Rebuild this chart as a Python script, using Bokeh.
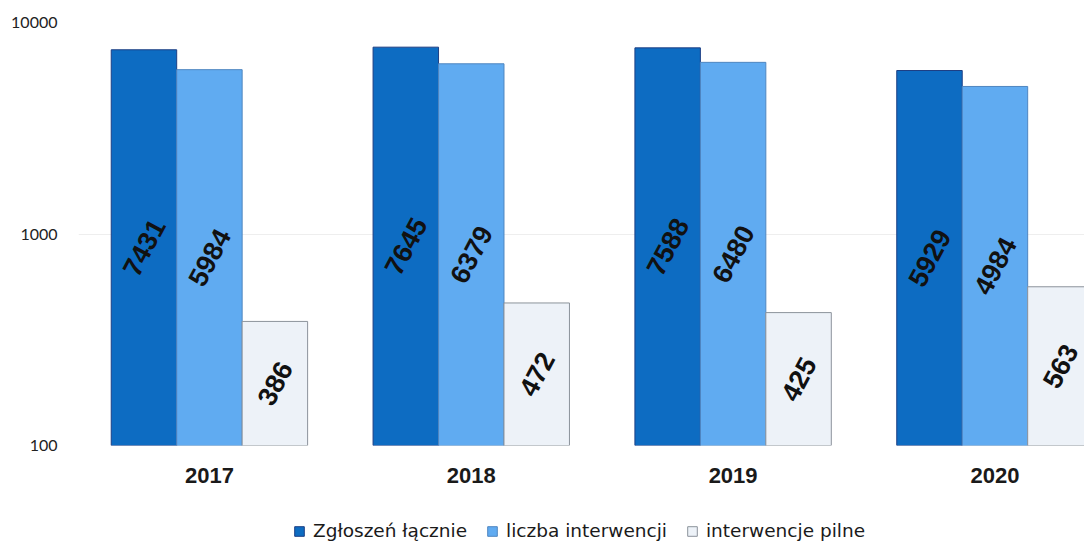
import math
from bokeh.plotting import figure
from bokeh.layouts import column
from bokeh.models import Range1d, FixedTicker, NumeralTickFormatter, Legend, LegendItem, ColumnDataSource
from bokeh.core.properties import value
from bokeh.embed import file_html
from bokeh.resources import INLINE

years = ["2017", "2018", "2019", "2020"]
zgloszenia = [7431, 7645, 7588, 5929]
interwencje = [5984, 6379, 6480, 4984]
pilne = [386, 472, 425, 563]
series_names = ["Zgłoszeń łącznie", "liczba interwencji", "interwencje pilne"]
y_ticks = [100, 1000, 10000]

fill_colors = ["#0d6cc2", "#60abf1", "#edf2f8"]
line_colors = ["#1d3f84", "#4f86c0", "#8c939b"]
offsets = [-0.25, 0.0, 0.25]
series = [zgloszenia, interwencje, pilne]
base = y_ticks[0]

p = figure(width=1084, height=505, y_axis_type="log",
           x_range=Range1d(-0.5, 3.342), y_range=Range1d(100, 10000),
           output_backend="svg", toolbar_location=None,
           min_border_left=78, min_border_right=0, min_border_top=22, min_border_bottom=60)
p.outline_line_color = None
p.background_fill_color = "white"

sources = []
for k, vals in enumerate(series):
    src = ColumnDataSource(dict(
        x=[i + offsets[k] for i in range(len(years))],
        top=vals,
        ymid=[math.sqrt(base * v) for v in vals],
        lbl=[str(v) for v in vals],
    ))
    sources.append(src)
    p.vbar(x="x", top="top", bottom=base, width=0.25, source=src,
           fill_color=fill_colors[k], line_color=line_colors[k], line_width=1)
    p.text(x="x", y="ymid", text="lbl", source=src, angle=math.radians(62),
           text_align="center", text_baseline="middle",
           text_font=value("Liberation Sans"), text_font_style="bold",
           text_font_size="27px", text_color="#111111")

yt = FixedTicker(ticks=y_ticks)
p.yaxis.ticker = yt
p.ygrid.ticker = yt
p.yaxis.formatter = NumeralTickFormatter(format="0")
p.yaxis.axis_line_color = None
p.yaxis.major_tick_line_color = None
p.yaxis.minor_tick_line_color = None
p.yaxis.major_tick_out = 0
p.yaxis.minor_tick_out = 0
p.yaxis.major_label_standoff = 21
p.yaxis.major_label_text_font = "Lato"
p.yaxis.major_label_text_font_size = "16px"
p.yaxis.major_label_text_color = "#222222"

p.xaxis.ticker = FixedTicker(ticks=list(range(len(years))))
p.xaxis.major_label_overrides = {i: y for i, y in enumerate(years)}
p.xaxis.axis_line_color = None
p.xaxis.major_tick_line_color = None
p.xaxis.minor_tick_line_color = None
p.xaxis.major_tick_out = 0
p.xaxis.minor_tick_out = 0
p.xaxis.major_label_standoff = 22
p.xaxis.major_label_text_font = "Liberation Sans"
p.xaxis.major_label_text_font_style = "bold"
p.xaxis.major_label_text_font_size = "22px"
p.xaxis.major_label_text_color = "#1a1a1a"

p.xgrid.grid_line_color = None
p.ygrid.grid_line_color = "#eeeeee"

# legend strip: hidden renderers that only supply the legend swatches
lg = figure(width=1084, height=36, x_range=Range1d(-0.5, 3.342), y_range=Range1d(0, 1),
            output_backend="svg", toolbar_location=None,
            x_axis_location=None, y_axis_location=None,
            min_border_left=78, min_border_right=0, min_border_top=0, min_border_bottom=0)
lg.outline_line_color = None
lg.xgrid.grid_line_color = None
lg.ygrid.grid_line_color = None
items = []
for k in range(3):
    r = lg.vbar(x="x", top="top", bottom=base, width=0.25, source=sources[k],
                fill_color=fill_colors[k], line_color=line_colors[k], line_width=1)
    r.visible = False
    items.append(LegendItem(label=series_names[k], renderers=[r]))

legend = Legend(items=items, orientation="horizontal", location=(215, 0),
                background_fill_alpha=0, border_line_color=None,
                inactive_fill_alpha=0,
                padding=0, margin=0, spacing=19, label_standoff=8,
                glyph_width=12, glyph_height=12, label_height=16,
                label_text_font="DejaVu Sans", label_text_font_size="18.5px",
                label_text_color="#1a1a1a")
lg.add_layout(legend)

layout = column(p, lg, spacing=0)
open("out.html", "w").write(file_html(layout, INLINE))
